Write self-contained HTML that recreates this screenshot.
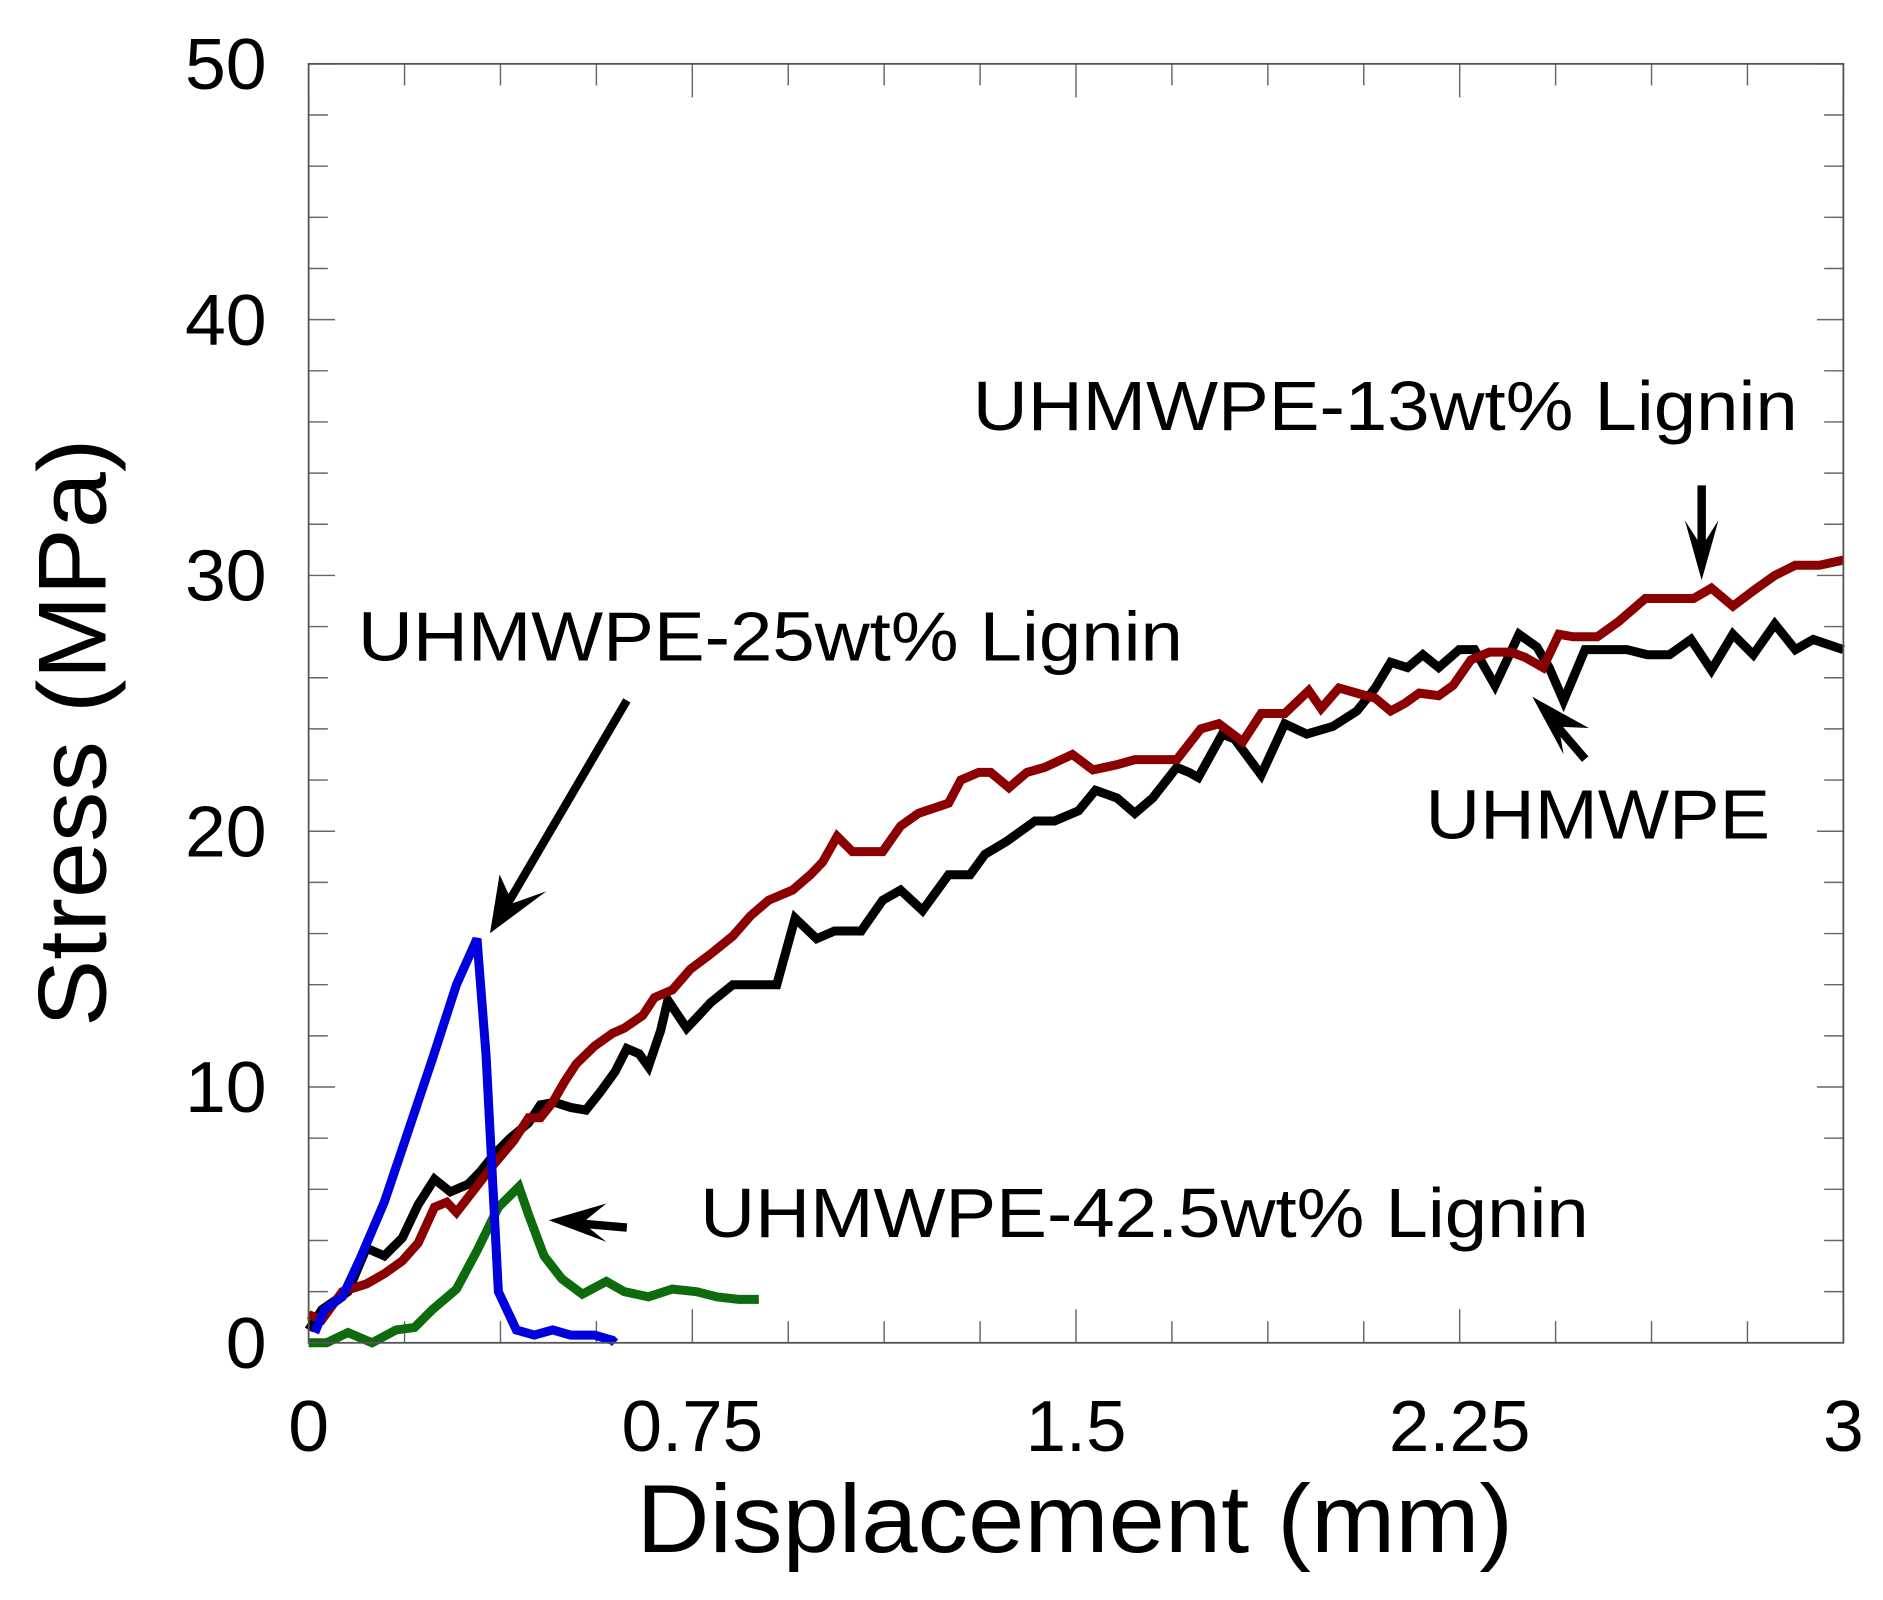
<!DOCTYPE html>
<html><head><meta charset="utf-8"><style>
html,body{margin:0;padding:0;background:#fff;}
svg{display:block;}
text{font-family:"Liberation Sans",sans-serif;fill:#000;}
</style></head><body>
<svg id="chart" width="1883" height="1600" viewBox="0 0 1568 1332" xmlns="http://www.w3.org/2000/svg">
<g id="ticks"></g>
<g id="series"></g>
<rect x="257" y="53" width="1278" height="1065" fill="none" stroke="#555" stroke-width="1.5"/>
<g id="labels"></g>
<text x="895" y="1292" font-size="80" text-anchor="middle" textLength="730" lengthAdjust="spacingAndGlyphs">Displacement (mm)</text>
<text transform="translate(88,610) rotate(-90)" font-size="80" text-anchor="middle" textLength="490" lengthAdjust="spacingAndGlyphs">Stress (MPa)</text>
<text x="810" y="358" font-size="58" textLength="687" lengthAdjust="spacingAndGlyphs">UHMWPE-13wt% Lignin</text>
<text x="298" y="550" font-size="58" textLength="687" lengthAdjust="spacingAndGlyphs">UHMWPE-25wt% Lignin</text>
<text x="1187" y="698" font-size="58" textLength="287" lengthAdjust="spacingAndGlyphs">UHMWPE</text>
<text x="583" y="1030" font-size="58" textLength="740" lengthAdjust="spacingAndGlyphs">UHMWPE-42.5wt% Lignin</text>
<g>
<line x1="522" y1="583" x2="420" y2="757" stroke="#000" stroke-width="7"/>
<polygon points="408,777 416,728 427,752 455,742" fill="#000"/>
</g>
<g>
<line x1="1417" y1="404" x2="1417" y2="465" stroke="#000" stroke-width="7"/>
<polygon points="1417,483 1403,433 1417,455 1431,433" fill="#000"/>
</g>
<g>
<line x1="1320" y1="632" x2="1290" y2="597" stroke="#000" stroke-width="7"/>
<polygon points="1276,580 1323,606 1298,605 1302,628" fill="#000"/>
</g>
<g>
<line x1="522" y1="1022" x2="475" y2="1018" stroke="#000" stroke-width="7"/>
<polygon points="457,1016 505,1002 485,1018 505,1034" fill="#000"/>
</g>
</svg>
<script>
const blackX=[0,0.026,0.077,0.113,0.148,0.183,0.214,0.246,0.277,0.312,0.336,0.364,0.394,0.430,0.453,0.481,0.512,0.542,0.570,0.599,0.622,0.646,0.664,0.688,0.702,0.739,0.758,0.786,0.829,0.915,0.951,0.993,1.028,1.080,1.122,1.157,1.200,1.251,1.293,1.322,1.364,1.420,1.458,1.505,1.538,1.580,1.615,1.650,1.697,1.721,1.739,1.786,1.810,1.862,1.908,1.951,2.002,2.049,2.085,2.115,2.148,2.178,2.209,2.249,2.279,2.319,2.366,2.401,2.425,2.453,2.495,2.577,2.617,2.660,2.702,2.742,2.784,2.824,2.866,2.906,2.941,3.0];
const blackY=[0.5,1.3,2.0,3.7,3.4,4.1,5.4,6.4,5.9,6.2,6.7,7.4,8.0,8.6,9.3,9.4,9.2,9.1,9.8,10.6,11.5,11.3,10.8,12.2,13.4,12.3,12.7,13.3,14.0,14.0,16.6,15.8,16.1,16.1,17.3,17.7,16.9,18.3,18.3,19.1,19.6,20.4,20.4,20.8,21.6,21.3,20.7,21.3,22.5,22.3,22.1,23.8,23.6,22.2,24.2,23.8,24.1,24.7,25.6,26.6,26.4,26.9,26.4,27.1,27.1,25.7,27.7,27.2,26.4,25.1,27.1,27.1,26.9,26.9,27.5,26.3,27.7,26.9,28.1,27.1,27.5,27.1];
const redX=[0,0.026,0.066,0.113,0.148,0.183,0.214,0.246,0.270,0.289,0.324,0.359,0.401,0.430,0.453,0.477,0.500,0.523,0.559,0.594,0.617,0.653,0.676,0.711,0.746,0.786,0.829,0.864,0.899,0.946,0.981,1.005,1.033,1.063,1.122,1.157,1.192,1.251,1.275,1.310,1.333,1.369,1.404,1.439,1.493,1.533,1.580,1.615,1.697,1.744,1.779,1.826,1.862,1.908,1.955,1.979,2.014,2.049,2.085,2.115,2.143,2.171,2.209,2.237,2.272,2.308,2.350,2.378,2.413,2.444,2.472,2.519,2.561,2.613,2.707,2.742,2.784,2.824,2.866,2.906,2.953,3.0];
const redY=[1.1,0.9,2.0,2.3,2.7,3.2,3.9,5.3,5.5,5.1,6.0,6.9,7.9,8.8,8.8,9.4,10.2,10.9,11.6,12.1,12.3,12.8,13.5,13.8,14.6,15.2,15.9,16.7,17.3,17.7,18.3,18.8,19.8,19.2,19.2,20.2,20.7,21.1,22.0,22.3,22.3,21.7,22.3,22.5,23.0,22.4,22.6,22.8,22.8,24.0,24.2,23.5,24.6,24.6,25.5,24.8,25.6,25.4,25.2,24.7,25.0,25.4,25.3,25.7,26.7,27.0,27.0,26.8,26.4,27.7,27.6,27.6,28.2,29.1,29.1,29.5,28.8,29.4,30.0,30.4,30.4,30.6];
const blueX=[0.012,0.031,0.066,0.101,0.148,0.195,0.242,0.289,0.329,0.347,0.371,0.406,0.441,0.477,0.512,0.559,0.594,0.599];
const blueY=[0.4,1.3,1.8,3.3,5.5,8.3,11.1,14.0,15.8,11.2,2.0,0.5,0.3,0.5,0.3,0.3,0.1,0];
const greenX=[0,0.035,0.077,0.124,0.171,0.207,0.242,0.289,0.329,0.371,0.411,0.430,0.460,0.495,0.535,0.582,0.617,0.664,0.711,0.758,0.798,0.840,0.880];
const greenY=[0,0,0.4,0,0.5,0.6,1.3,2.1,3.6,5.3,6.1,5.0,3.4,2.5,1.9,2.4,2.0,1.8,2.1,2.0,1.8,1.7,1.7];
const xTickLabels=["0","0.75","1.5","2.25","3"];
const yTickLabels=["0","10","20","30","40","50"];

const NS="http://www.w3.org/2000/svg";
const X0=257,X1=1535,Y0=1118,Y1=53;
function sx(v){return X0+(v/3)*(X1-X0);}
function sy(v){return Y0-(v/50)*(Y0-Y1);}
function mk(tag,attrs,parent){const e=document.createElementNS(NS,tag);for(const k in attrs)e.setAttribute(k,attrs[k]);parent.appendChild(e);return e;}
function tlen(s){let n=0;for(const c of s)n+=(c==='.')?16:34;return n;}
const tg=document.getElementById('ticks'),lg=document.getElementById('labels'),sg=document.getElementById('series');
for(let i=0;i<=16;i++){const v=i*0.1875,x=sx(v),len=(i%4===0)?28:18;
 let t=mk('line',{x1:x,x2:x,y1:Y0,y2:Y0-len,stroke:'#666','stroke-width':1.2},tg);
 
 
 t=mk('line',{x1:x,x2:x,y1:Y1,y2:Y1+len,stroke:'#666','stroke-width':1.2},tg);
 
 }
for(let i=0;i<=25;i++){const v=i*2,y=sy(v),len=(v%10===0)?22:16;
 let t=mk('line',{x1:X0,x2:X0+len,y1:y,y2:y,stroke:'#666','stroke-width':1.2},tg);
 
 
 t=mk('line',{x1:X1,x2:X1-len,y1:y,y2:y,stroke:'#666','stroke-width':1.2},tg);
 
 }
xTickLabels.forEach((s)=>{const v=parseFloat(s);
 const t=mk('text',{x:sx(v),y:1208,'font-size':60,'text-anchor':'middle',textLength:tlen(s),lengthAdjust:'spacingAndGlyphs'},lg);t.textContent=s;
 
 });
yTickLabels.forEach((s)=>{const v=parseFloat(s);
 const t=mk('text',{x:222,y:sy(v)+21,'font-size':60,'text-anchor':'end',textLength:tlen(s),lengthAdjust:'spacingAndGlyphs'},lg);t.textContent=s;
 
 });
function line(xs,ys,color,name){
 const d=xs.map((x,i)=>(i?'L':'M')+sx(x).toFixed(1)+','+sy(ys[i]).toFixed(1)).join(' ');
 const p=mk('path',{d:d,fill:'none',stroke:color,'stroke-width':7.5,'stroke-linejoin':'miter','stroke-miterlimit':3},sg);
 
 }
line(greenX,greenY,'#0d6b0d','series-42-5wt-lignin');
line(blackX,blackY,'#000000','series-uhmwpe');
line(redX,redY,'#8b0000','series-13wt-lignin');
line(blueX,blueY,'#0000dd','series-25wt-lignin');
</script>
</body></html>
